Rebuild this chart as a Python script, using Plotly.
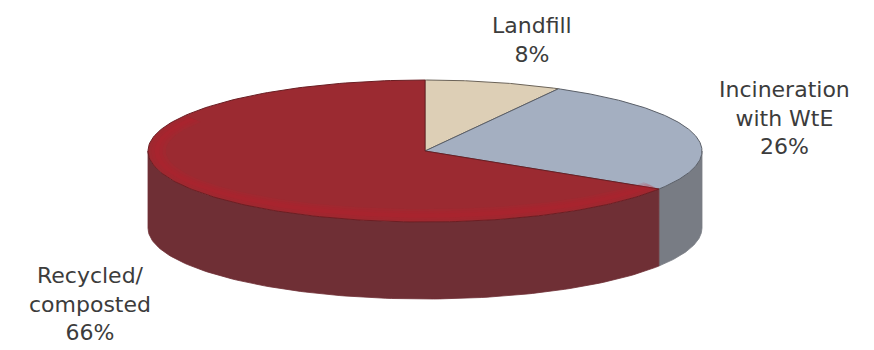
import numpy as np
import plotly.graph_objects as go

# Waste treatment shares (percent)
labels = ["Landfill", "Incineration<br>with WtE", "Recycled/<br>composted"]
shares = [8, 26, 66]

# Slice styling
top_colors = ["#DDCFB6", "#A4AFC1", "#9B2A31"]
side_colors = ["#B8A88E", "#787C84", "#6F2F35"]
edge_colors = ["#6B6358", "#5A5F68", "#6A1E23"]

# Label placement (pixel coordinates)
label_pos = [(532, 40), (784, 118), (90, 304)]

W, H = 874, 350
cx, cy = 425, 151          # centre of the top face
rx, ry = 277, 71           # ellipse radii of the top face
depth = 77                 # thickness of the disc


def rim(t_deg, dy=0.0, sx=1.0, sy=1.0):
    t = np.radians(t_deg)
    return cx + rx * sx * np.sin(t), cy - ry * sy * np.cos(t) + dy


fig = go.Figure()

# slice angle ranges, clockwise from 12 o'clock
bounds = np.concatenate([[0], np.cumsum(shares)]) / sum(shares) * 360.0
ranges = list(zip(bounds[:-1], bounds[1:]))

# side walls: only the front half (90..270 deg) is visible
for (a, b), col in zip(ranges, side_colors):
    lo, hi = max(a, 90.0), min(b, 270.0)
    if hi <= lo:
        continue
    t = np.linspace(lo, hi, 120)
    xt, yt = rim(t)
    xb, yb = rim(t[::-1], depth)
    fig.add_trace(go.Scatter(
        x=np.concatenate([xt, xb, xt[:1]]),
        y=np.concatenate([yt, yb, yt[:1]]),
        mode="lines", fill="toself", fillcolor=col,
        line=dict(color=col, width=0.8), hoverinfo="skip"))

# top faces
for (a, b), col, ec in zip(ranges, top_colors, edge_colors):
    t = np.linspace(a, b, 200)
    xt, yt = rim(t)
    fig.add_trace(go.Scatter(
        x=np.concatenate([[cx], xt, [cx]]),
        y=np.concatenate([[cy], yt, [cy]]),
        mode="lines", fill="toself", fillcolor=col,
        line=dict(color=ec, width=1), hoverinfo="skip"))

# soft highlight along the front of the red top face
a, b = ranges[2]
t = np.linspace(max(a, 105), 300, 150)
for k, alpha in enumerate([0.10, 0.12, 0.14]):
    s = 1.0 - 0.012 * k
    xo, yo = rim(t, sx=s, sy=1.0 - 0.03 * k)
    xi, yi = rim(t[::-1], sx=s - 0.04, sy=1.0 - 0.03 * k - 0.12)
    fig.add_trace(go.Scatter(
        x=np.concatenate([xo, xi, xo[:1]]),
        y=np.concatenate([yo, yi, yo[:1]]),
        mode="lines", fill="toself", fillcolor=f"rgba(200,25,40,{alpha})",
        line=dict(width=0), hoverinfo="skip"))

for lab, val, (x, y) in zip(labels, shares, label_pos):
    fig.add_annotation(x=x, y=y, xref="x", yref="y",
                       text=f"{lab}<br>{val}%", showarrow=False,
                       font=dict(family="DejaVu Sans", size=22, color="#3C3C3C"),
                       align="center")

fig.update_layout(
    width=W, height=H, margin=dict(l=0, r=0, t=0, b=0),
    paper_bgcolor="white", plot_bgcolor="white", showlegend=False,
    xaxis=dict(range=[0, W], visible=False, fixedrange=True),
    yaxis=dict(range=[H, 0], visible=False, fixedrange=True),
)

fig.write_html("out.html")
